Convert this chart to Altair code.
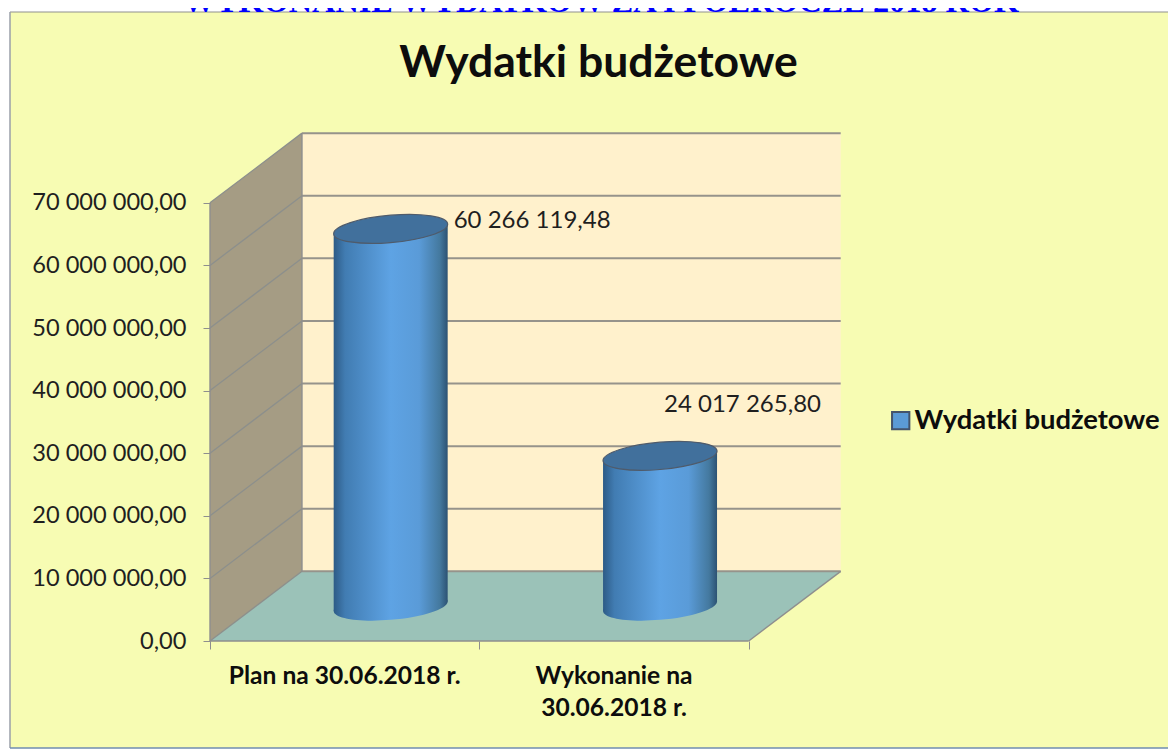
import altair as alt
import pandas as pd

categories = ["Plan na 30.06.2018 r.", "Wykonanie na\n30.06.2018 r."]
values = [60266119.48, 24017265.80]
series_name = "Wydatki budżetowe"
title_text = "Wydatki budżetowe"
page_heading = "WYKONANIE WYDATKÓW ZA I PÓŁROCZE 2018 ROK"
grid_levels = [0, 10e6, 20e6, 30e6, 40e6, 50e6, 60e6, 70e6]

# pseudo-3D geometry, in data units
DX = 0.3415          # depth, category units
DY = 11.13e6         # depth, value units
HALF_W = 0.2116      # cylinder half width
TILT = 0.76e6        # tilt of the ellipse across the cylinder
Y_TOP = 70e6
N = 2

PW, PH = 633, 510
xs = alt.Scale(domain=[0, 2.35], nice=False, zero=False)
ys = alt.Scale(domain=[0, 81.47e6], nice=False, zero=False)

x_axis = alt.Axis(
    values=list(range(N + 1)), labels=False, domain=False, grid=False, ticks=True,
    tickSize=8, tickColor="#8e8e8e", zindex=1, title=None)
y_axis = alt.Axis(
    values=grid_levels, domain=False, grid=False, ticks=True, tickSize=7,
    tickColor="#8e8e8e", labelPadding=17, zindex=1, title=None,
    labelFont="Lato", labelFontSize=23.6, labelColor="#1f1f1f",
    labelExpr="replace(replace(format(datum.value, ',.2f'), /,/g, ' '), '.', ',')")


def X(f="x"):
    return alt.X(f"{f}:Q", scale=xs, axis=x_axis, title=None)


def Y(f="y"):
    return alt.Y(f"{f}:Q", scale=ys, axis=y_axis, title=None, stack=None)


def fmt(v):
    return f"{v:,.2f}".replace(",", " ").replace(".", ",")


def ellipse(shear=-0.083, b=0.24):
    k = 0.5523
    def p(cx, sy):
        return f"{cx:.4f},{(shear * cx + b * sy):.4f}"
    return (f"M{p(1,0)} C{p(1,k)} {p(k,1)} {p(0,1)} C{p(-k,1)} {p(-1,k)} {p(-1,0)} "
            f"C{p(-1,-k)} {p(-k,-1)} {p(0,-1)} C{p(k,-1)} {p(1,-k)} {p(1,0)} Z")


ELLIPSE = ellipse()
ELL_SIZE = 114 ** 2

cyl_grad = alt.LinearGradient(
    gradient="linear", x1=0, x2=1, y1=0, y2=0,
    stops=[
        alt.GradientStop(color="#2d5b86", offset=0),
        alt.GradientStop(color="#417cb2", offset=0.1),
        alt.GradientStop(color="#5ea3e4", offset=0.5),
        alt.GradientStop(color="#5a9bd8", offset=0.75),
        alt.GradientStop(color="#44799f", offset=0.93),
        alt.GradientStop(color="#2c5273", offset=1),
    ],
)

# ---------- decorations through the scales
one = pd.DataFrame({"a": [0]})
panel = alt.Chart(one).mark_rect(fill="#f7fcb3").encode(
    x=alt.value(-200), x2=alt.value(970), y=alt.value(-119), y2=alt.value(617)
)
border_top = alt.Chart(one).mark_rule(color="#8f8f8f", strokeWidth=1.2).encode(
    x=alt.value(-200), x2=alt.value(970), y=alt.value(-119))
border_left = alt.Chart(one).mark_rule(color="#9a9fa8", strokeWidth=1.5).encode(
    x=alt.value(-200), y=alt.value(-119), y2=alt.value(617))
border_bottom = alt.Chart(one).mark_rule(color="#6f8db0", strokeWidth=1.5).encode(
    x=alt.value(-200), x2=alt.value(970), y=alt.value(617))

side = pd.DataFrame({"x": [0, DX], "y": [0, DY], "y2": [Y_TOP, Y_TOP + DY]})
back = pd.DataFrame({"x": [DX, N + DX], "y": [DY, DY], "y2": [Y_TOP + DY, Y_TOP + DY]})
floor = pd.DataFrame({"x": [0, DX, N, N + DX], "y": [0, 0, 0, DY], "y2": [0, DY, DY, DY]})

side_l = alt.Chart(side).mark_area(color="#a59c84").encode(x=X(), y=Y(), y2="y2:Q")
back_l = alt.Chart(back).mark_area(color="#fff1cc").encode(x=X(), y=Y(), y2="y2:Q")
floor_l = alt.Chart(floor).mark_area(color="#9bc2b8").encode(x=X(), y=Y(), y2="y2:Q")

grid_side, grid_back = [], []
for lv in grid_levels:
    grid_side += [
        {"lv": lv, "o": 0, "x": 0, "y": lv},
        {"lv": lv, "o": 1, "x": DX, "y": lv + DY},
    ]
    grid_back += [
        {"lv": lv, "o": 0, "x": DX, "y": lv + DY},
        {"lv": lv, "o": 1, "x": N + DX, "y": lv + DY},
    ]
grid_side_l = alt.Chart(pd.DataFrame(grid_side)).mark_line(color="#8c8f8c", strokeWidth=1.3).encode(
    x=X(), y=Y(), detail="lv:N", order="o:Q"
)
grid_back_l = alt.Chart(pd.DataFrame(grid_back)).mark_line(color="#96938b", strokeWidth=2).encode(
    x=X(), y=Y(), detail="lv:N", order="o:Q"
)

edges = pd.DataFrame({
    "e": ["front", "front", "wall", "wall", "right", "right", "back", "back"],
    "o": [0, 1, 0, 1, 0, 1, 0, 1],
    "x": [0, N, 0, 0, N, N + DX, DX, DX],
    "y": [0, 0, 0, Y_TOP, 0, DY, DY, Y_TOP + DY],
})
edges_l = alt.Chart(edges).mark_line(color="#8e8e8e", strokeWidth=1.4).encode(
    x=X(), y=Y(), detail="e:N", order="o:Q"
)

# ---------- cylinders, from values
body_rows, tops, bases = [], [], []
for i, (c, v) in enumerate(zip(categories, values)):
    cx = i + 0.5 + DX / 2
    by = DY / 2
    body_rows += [
        {"c": c, "x": cx - HALF_W, "y": by - TILT, "y2": by + v - TILT},
        {"c": c, "x": cx + HALF_W, "y": by + TILT, "y2": by + v + TILT},
    ]
    tops.append({"c": c, "x": cx, "y": by + v, "s": series_name})
    bases.append({"c": c, "x": cx, "y": by})
bodies_df = pd.DataFrame(body_rows)
tops_df = pd.DataFrame(tops)
bases_df = pd.DataFrame(bases)

base_l = alt.Chart(bases_df).mark_point(
    shape=ELLIPSE, size=ELL_SIZE, filled=True, fill=cyl_grad, opacity=1, strokeWidth=0
).encode(x=X(), y=Y())
body_l = alt.Chart(bodies_df).mark_area(fill=cyl_grad, opacity=1).encode(
    x=X(), y=Y(), y2="y2:Q", detail="c:N"
)
top_l = alt.Chart(tops_df).mark_point(
    shape=ELLIPSE, size=ELL_SIZE, filled=True, fill="#41709c", stroke="#4f5b6b",
    strokeWidth=1.2, opacity=1
).encode(x=X(), y=Y())

legend_l = alt.Chart(tops_df).mark_point(shape="square", filled=True, opacity=0, size=1).encode(
    x=X(), y=Y(),
    color=alt.Color(
        "s:N",
        scale=alt.Scale(domain=[series_name], range=["#5b9bd5"]),
        legend=alt.Legend(
            title=None, orient="none", legendX=677, legendY=276,
            symbolType="square", symbolSize=300, symbolOpacity=1,
            symbolStrokeColor="#44546a", symbolStrokeWidth=2, symbolFillColor="#5b9bd5",
            labelFont="Lato", labelFontSize=27.4, labelFontWeight="bold", labelColor="#0d0d0d",
            labelOffset=0, labelLimit=320,
        ),
    ),
)

# ---------- data labels
lab_font = dict(font="Lato", fontSize=24, color="#1f1f1f", align="left", baseline="middle")
lab0 = alt.Chart(pd.DataFrame({"x": [tops[0]["x"]], "y": [tops[0]["y"]], "t": [fmt(values[0])]})).mark_text(
    dx=63, dy=-8, **lab_font).encode(x=X(), y=Y(), text="t:N")
lab1 = alt.Chart(pd.DataFrame({"x": [tops[1]["x"]], "y": [tops[1]["y"]], "t": [fmt(values[1])]})).mark_text(
    dx=4, dy=-51, **lab_font).encode(x=X(), y=Y(), text="t:N")

# ---------- category labels
cat_df = pd.DataFrame({"x": [i + 0.5 for i in range(N)], "c": categories})
cat_l = alt.Chart(cat_df).mark_text(
    font="Lato", fontSize=24.6, fontWeight="bold", color="#0d0d0d",
    align="center", baseline="alphabetic", lineBreak="\n", lineHeight=32,
).encode(x=X(), y=alt.value(553), text="c:N")

title_l = alt.Chart(pd.DataFrame({"t": [title_text]})).mark_text(
    font="Lato", fontSize=44.5, fontWeight="bold", color="#0d0d0d", align="center", baseline="alphabetic"
).encode(x=alt.value(388.5), y=alt.value(-54), text="t:N")

heading_l = alt.Chart(pd.DataFrame({"t": [page_heading]})).mark_text(
    font="Liberation Serif", fontSize=32.3, fontWeight="bold", color="#0000ff", align="center", baseline="alphabetic"
).encode(x=alt.value(391), y=alt.value(-119.5), text="t:N")

chart = alt.layer(
    panel, border_top, border_left, border_bottom, heading_l,
    side_l, back_l, floor_l, grid_side_l, grid_back_l, edges_l,
    base_l, body_l, top_l, legend_l, lab0, lab1, cat_l, title_l,
).properties(
    width=PW, height=PH,
    padding={"left": 202, "top": 123, "right": 325, "bottom": 108},
    autosize=alt.AutoSizeParams(type="none"),
    background="#ffffff",
).configure_view(stroke=None)

chart.save("out.html", embed_options={"renderer": "svg", "actions": False})
